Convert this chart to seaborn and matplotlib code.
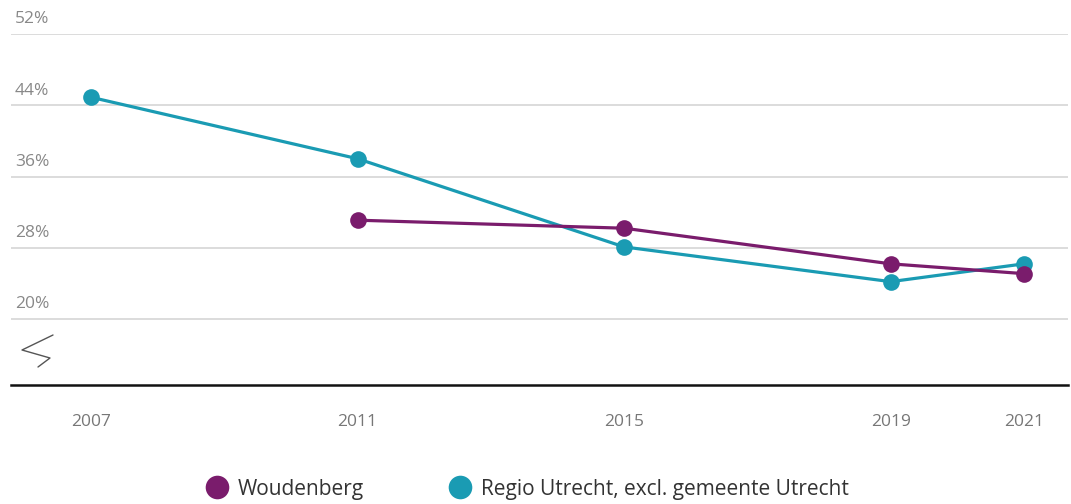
import matplotlib.pyplot as plt
import matplotlib.transforms as mtransforms
from matplotlib.lines import Line2D
import seaborn as sns
import pandas as pd

years_regio = [2007, 2011, 2015, 2019, 2021]
regio = [44.9, 38.0, 28.1, 24.2, 26.2]
years_woud = [2011, 2015, 2019, 2021]
woudenberg = [31.1, 30.2, 26.2, 25.1]
y_ticks = [20, 28, 36, 44, 52]
x_ticks = [2007, 2011, 2015, 2019, 2021]

names = ["Woudenberg", "Regio Utrecht, excl. gemeente Utrecht"]
colors = {names[0]: "#7a1c6c", names[1]: "#1a9bb3"}

df = pd.concat([
    pd.DataFrame({"jaar": years_woud, "waarde": woudenberg, "gebied": names[0]}),
    pd.DataFrame({"jaar": years_regio, "waarde": regio, "gebied": names[1]}),
])

sns.set_style("white")
plt.rcParams["font.family"] = ["Open Sans", "DejaVu Sans"]

fig = plt.figure(figsize=(10.71, 5.04), dpi=100)
ax = fig.add_axes([11 / 1071, 1 - 385 / 504, 1057 / 1071, (385 - 34) / 504])

sns.lineplot(data=df, x="jaar", y="waarde", hue="gebied", hue_order=names[::-1],
             palette=colors, marker="o", markersize=12, markeredgewidth=0,
             linewidth=2.3, ax=ax, legend=False, clip_on=False)

ax.set_xlim(2005.8, 2021.66)
ax.set_ylim(12.6, 52)
ax.set_yticks(y_ticks)
ax.set_yticklabels([])
ax.tick_params(axis="y", length=0)
ax.yaxis.grid(True, color="#d6d6d6", linewidth=1.2)
ax.set_axisbelow(True)
ax.set_xticks(x_ticks)
ax.set_xticklabels([str(x) for x in x_ticks], color="#777777", fontsize=12.5)
ax.tick_params(axis="x", length=0, pad=21)
ax.set_xlabel("")
ax.set_ylabel("")
for s in ["top", "right", "left"]:
    ax.spines[s].set_visible(False)
ax.spines["bottom"].set_color("#111111")
ax.spines["bottom"].set_linewidth(1.8)

trans = mtransforms.blended_transform_factory(ax.transAxes, ax.transData)
for v in y_ticks:
    ax.text(4 / 1057, v + 1.65, f"{v}%", transform=trans, ha="left", va="center",
            color="#888888", fontsize=12.5)

# axis-break zigzag
zx = [53, 22, 50, 38]
zy = [335, 350, 358, 367]
ax.plot([(x - 11) / 1057 for x in zx], [(385 - y) / 351 for y in zy],
        transform=ax.transAxes, color="#555555", linewidth=1.0, clip_on=False)

handles = [Line2D([], [], marker="o", linestyle="", markersize=17,
                  markerfacecolor=colors[n], markeredgewidth=0) for n in names]
fig.legend(handles, names, loc="center", bbox_to_anchor=(0.488, 1 - 489 / 504),
           ncol=2, frameon=False, handletextpad=0.0, columnspacing=3.6,
           fontsize=15, labelcolor="#333333")

fig.savefig("out.png", dpi=100)
